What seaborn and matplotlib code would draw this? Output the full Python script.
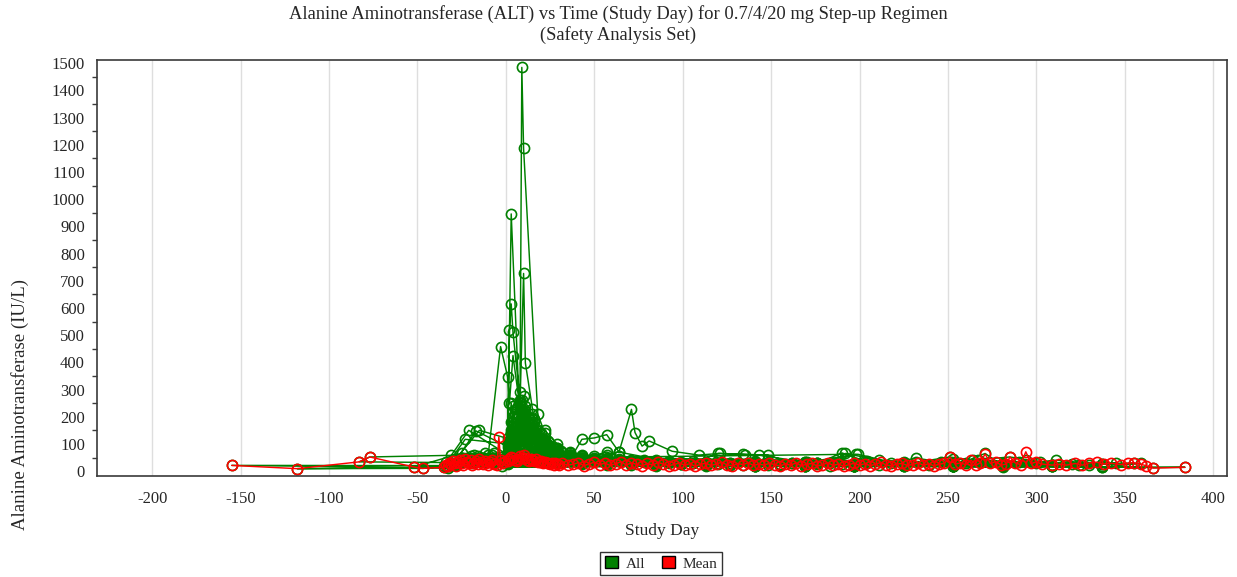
import matplotlib
matplotlib.use("Agg")
import matplotlib.pyplot as plt
from matplotlib.patches import Patch
from matplotlib.ticker import MultipleLocator
import pandas as pd
import seaborn as sns

# ALT values for every visit, listed subject by subject (line joins them in this order)
all_day = [
    -28, 1, 2, 3, 4, 8, 9, 10, 11, 15, 16, 22, 29, 43, 57, 71, 85, 113, 141, 169, 197, 225, 253, 281, 309, 337,
    -155, -33, 1, 2, 3, 4, 8, 9, 10, 15, 22, 29, 43, 57, 85, 113, 141, 169, 197, 225, 253, 271, 281, 309, 337, 366, 384,
    -33, -16, 1, 2, 3, 4, 5, 8, 9, 10, 11, 12, 15, 16, 17, 22, 24, 29, 36, 43, 50, 57, 64, 85, 113, 141, 169, 197,
    -83, -77, -31, -12, 1, 2, 3, 4, 8, 9, 10, 11, 15, 16, 22, 29, 36, 43, 57, 71, 85, 99, 113, 127, 141, 155, 169,
    -118, -47, -28, 1, 2, 3, 4, 8, 10, 11, 15, 17, 22, 29, 43, 57, 85, 113, 141, 169, 197, 225, 253, 281, 309,
    -28, -9, 1, 2, 3, 4, 6, 8, 9, 10, 11, 13, 15, 17, 19, 22, 25, 29, 33, 36, 43, 50, 57, 71, 85, 113, 141, 169, 197, 225, 253,
    -52, -25, 1, 2, 3, 4, 8, 9, 10, 11, 15, 18, 22, 29, 36, 50, 64, 78, 92, 106, 120, 134, 148, 162, 176, 190, 204, 218, 232, 246, 260,
    -33, 1, 2, 3, 4, 8, 9, 10, 11, 15, 16, 17, 22, 29, 43, 57, 85, 113, 141, 169, 197, 225, 253, 281, 309, 337, 359,
    -26, 1, 2, 3, 4, 8, 9, 10, 11, 15, 18, 22, 29, 36, 43, 57, 71, 85, 99, 113, 127, 141, 155, 169, 183, 192, 211,
    -35, -21, 1, 2, 3, 4, 8, 9, 10, 18, 22, 29, 43, 57, 85, 113, 141,
    -25, -4, 1, 2, 3, 4, 8, 9, 10, 11, 12, 14, 15, 16, 18, 20, 22, 27, 29, 36, 43, 57, 71, 85, 99, 113, 127, 141, 169, 197, 225, 253, 281, 309, 337,
    -20, -8, 1, 2, 3, 4, 8, 9, 10, 12, 15, 19, 22, 25, 29, 43, 57, 85, 113, 141, 169, 199, 225, 253, 281, 311, 337, 355,
    -35, -2, 1, 2, 3, 5, 8, 9, 10, 11, 14, 16, 20, 23, 29, 36, 50, 64, 78, 92, 106, 120, 134, 148, 162, 176, 190,
    -30, -17, 1, 3, 8, 9, 10, 11, 15, 22, 29, 36, 43, 50, 57, 64, 92, 120, 148, 176, 204,
    -22, -7, 1, 2, 3, 4, 7, 8, 9, 10, 11, 15, 16, 18, 22, 24, 29, 31, 36, 43, 50, 57, 64, 78, 92, 106, 120, 148, 176, 204, 232,
    -29, 1, 2, 3, 4, 8, 9, 10, 11, 15, 16, 22, 24, 29, 43, 57, 85, 113, 141, 169, 197, 225, 253, 281, 309, 324,
    -32, -6, 1, 2, 3, 4, 8, 9, 10, 11, 15, 16, 22, 29, 36, 43, 50, 57, 71, 85, 99, 113, 127, 141, 155, 169, 183, 197, 211, 225, 239, 253, 267, 285, 302,
    -30, 1, 2, 3, 4, 8, 10, 11, 15, 16, 22, 29, 43, 57, 64, 71, 73, 77, 81, 94, 109, 121, 135, 143, 170, 198,
    -24, -1, 1, 2, 3, 4, 8, 9, 10, 13, 15, 20, 22, 26, 29, 43, 57, 85, 113, 141, 169, 197, 225, 251, 264, 290, 330, 345,
    -34, -23, 1, 2, 3, 4, 8, 9, 15, 22, 29, 43, 57, 85, 113, 141, 169, 197, 225,
    -34, -18, 1, 2, 3, 4, 8, 9, 10, 11, 15, 16, 19, 22, 26, 29, 36, 43, 57, 71, 85, 113, 141, 169, 197, 225, 253, 281,
    -19, -5, 1, 2, 3, 4, 8, 9, 10, 11, 15, 16, 22, 29, 36, 43, 57, 85, 113, 141, 169, 197, 225,
    -10, -3, 1, 2, 4, 8, 9, 10, 15, 22, 29, 43, 57, 85, 113, 141, 169, 197, 225, 253, 281, 294, 320,
    -27, -13, 1, 2, 3, 4, 8, 9, 10, 11, 15, 17, 22, 29, 43, 57, 64, 85, 113, 141, 169, 197, 225, 253, 281, 300,
    -31, -15, 1, 3, 4, 8, 10, 11, 15, 16, 22, 29, 36, 57, 85, 113, 141, 169, 197, 225, 253, 281, 309,
]
all_alt = [
    22, 35, 48, 70, 95, 130, 110, 85, 72, 60, 44, 38, 30, 26, 24, 22, 20, 25, 18, 21, 19, 23, 20, 17, 22, 18,
    21, 12, 28, 40, 55, 70, 95, 110, 90, 70, 50, 38, 30, 26, 22, 20, 18, 22, 19, 21, 18, 65, 20, 17, 16, 13, 14,
    20, 55, 60, 90, 140, 180, 210, 240, 260, 230, 205, 180, 160, 140, 130, 110, 95, 80, 60, 50, 45, 40, 36, 30, 26, 24, 22, 20,
    34, 52, 58, 66, 45, 60, 85, 120, 150, 175, 160, 140, 120, 100, 80, 60, 48, 40, 34, 30, 28, 25, 27, 23, 26, 24, 22,
    9, 10, 22, 30, 42, 60, 80, 130, 150, 170, 190, 150, 110, 70, 45, 35, 28, 25, 22, 20, 24, 21, 19, 23, 20,
    30, 45, 70, 100, 150, 200, 230, 250, 220, 190, 170, 160, 140, 120, 105, 90, 75, 62, 55, 48, 42, 38, 34, 30, 28, 26, 24, 22, 25, 23, 21,
    15, 66, 50, 75, 100, 140, 180, 220, 200, 185, 150, 125, 100, 75, 60, 45, 40, 36, 32, 30, 65, 62, 59, 30, 28, 67, 35, 30, 48, 33, 28,
    18, 25, 40, 60, 85, 120, 140, 150, 130, 110, 95, 90, 70, 50, 35, 30, 25, 22, 20, 19, 18, 20, 17, 16, 18, 15, 28,
    40, 45, 70, 100, 130, 190, 210, 180, 160, 140, 120, 90, 65, 50, 40, 35, 30, 28, 26, 32, 30, 28, 25, 27, 30, 65, 40,
    20, 150, 60, 110, 180, 240, 290, 1485, 1187, 210, 140, 80, 45, 35, 28, 25, 22,
    50, 40, 45, 65, 90, 120, 160, 190, 215, 200, 185, 175, 160, 150, 135, 120, 100, 85, 70, 58, 50, 44, 40, 36, 32, 30, 28, 34, 30, 27, 33, 29, 26, 24, 27,
    55, 60, 50, 80, 110, 160, 180, 200, 170, 150, 130, 110, 95, 80, 60, 45, 38, 30, 28, 25, 23, 62, 22, 24, 21, 40, 25, 28,
    15, 20, 30, 45, 70, 100, 150, 170, 200, 220, 180, 140, 120, 100, 85, 60, 50, 40, 35, 30, 28, 26, 24, 22, 30, 28, 25,
    22, 148, 90, 946, 170, 150, 120, 95, 75, 60, 48, 40, 117, 122, 134, 70, 35, 30, 28, 26, 30,
    40, 65, 55, 85, 120, 165, 195, 180, 170, 185, 150, 130, 140, 115, 105, 90, 85, 75, 68, 60, 55, 50, 45, 40, 38, 36, 42, 35, 30, 38, 34,
    30, 35, 50, 75, 110, 140, 120, 100, 90, 80, 70, 55, 110, 45, 56, 42, 34, 30, 25, 28, 24, 22, 20, 21, 19, 24,
    25, 35, 40, 55, 80, 105, 135, 160, 190, 170, 145, 125, 95, 70, 55, 45, 40, 35, 30, 28, 25, 24, 22, 20, 21, 19, 18, 20, 22, 24, 21, 20, 42, 52, 34,
    30, 55, 95, 140, 200, 250, 727, 398, 230, 180, 110, 80, 55, 60, 71, 227, 142, 92, 111, 73, 59, 65, 61, 59, 32, 62,
    45, 30, 35, 60, 90, 125, 160, 185, 210, 195, 170, 140, 115, 90, 65, 48, 40, 32, 28, 26, 24, 22, 25, 52, 40, 35, 22, 30,
    18, 117, 100, 520, 615, 511, 260, 190, 140, 100, 70, 50, 40, 30, 28, 25, 22, 24, 21,
    35, 60, 70, 110, 130, 145, 175, 165, 150, 135, 120, 108, 96, 88, 75, 66, 58, 50, 42, 38, 34, 30, 36, 32, 29, 31, 27, 25,
    28, 35, 30, 45, 60, 75, 95, 115, 125, 110, 95, 85, 65, 50, 42, 36, 30, 26, 24, 22, 20, 18, 19,
    60, 458, 346, 250, 425, 230, 200, 175, 120, 85, 60, 42, 35, 30, 28, 25, 26, 22, 24, 20, 21, 40, 25,
    35, 48, 40, 55, 75, 95, 110, 130, 150, 140, 125, 100, 85, 60, 45, 70, 55, 40, 30, 26, 24, 22, 20, 45, 30, 28,
    24, 150, 120, 250, 200, 230, 275, 240, 210, 190, 150, 100, 70, 45, 35, 30, 28, 32, 26, 30, 27, 25, 22,
]

# mean ALT per study day
mean_day = [
    -155, -118, -83, -77, -52, -47,
    -35, -34, -33, -32, -31, -30, -29, -28, -27, -26, -25, -24, -23, -22, -21, -20, -19, -18, -17, -16, -15, -14,
    -13, -12, -11, -10, -9, -8, -7, -6, -5, -4, -3, -2, -1,
    1, 2, 3, 4, 5, 6, 7, 8, 9, 10, 11, 12, 13, 14, 15, 16, 17, 18, 19, 20, 21, 22, 23, 24, 25, 26, 27, 28, 29, 30,
    32, 35, 38, 41, 44, 47, 50, 53, 56, 59, 62, 65, 68, 71, 74, 77, 80, 83, 86, 89, 92, 95, 98, 101, 104, 107,
    110, 113, 116, 119, 122, 125, 128, 131, 134, 137, 140, 143, 146, 149,
    152, 155, 158, 161, 164, 167, 170, 173, 176, 179, 182, 185, 188, 191, 194, 197, 200, 203, 206, 209, 212, 215,
    218, 221, 224, 227, 230, 233, 236, 239, 242, 245, 248,
    251, 254, 257, 260, 263, 266, 268, 271, 274, 277, 280, 283, 285, 288, 291, 294, 297,
    300, 303, 309, 313, 317, 322, 326, 330, 334, 338, 342, 348, 352, 355, 359, 362, 366, 384,
]
mean_alt = [
    21, 9, 34, 52, 15, 10,
    14, 22, 18, 30, 25, 38, 28, 20, 35, 42, 30, 24, 45, 33, 28, 40, 22, 30, 38, 26, 44, 32,
    25, 36, 28, 22, 34, 40, 27, 31, 24, 126, 42, 30, 35,
    38, 45, 52, 48, 40, 36, 44, 55, 50, 58, 47, 42, 38, 45, 40, 37, 43, 35, 32, 38, 30, 34, 28, 31, 26, 30, 24, 28, 25, 22,
    28, 22, 25, 31, 20, 26, 33, 24, 29, 21, 27, 34, 23, 30, 25, 19, 28, 22, 32, 26, 20, 24, 30, 22, 27, 18,
    25, 29, 21, 26, 33, 23, 19, 28, 24, 30, 21, 26, 22, 29,
    24, 18, 27, 22, 30, 20, 25, 28, 19, 23, 31, 21, 26, 18, 24, 29, 22, 27, 20, 25, 32, 23,
    19, 26, 28, 21, 24, 30, 22, 27, 20, 25, 29,
    52, 26, 30, 24, 40, 22, 30, 63, 28, 35, 22, 26, 52, 30, 24, 71, 28,
    34, 26, 22, 25, 22, 28, 22, 30, 33, 26, 29, 24, 29, 31, 25, 20, 11, 14,
]

x_ticks = [-200, -150, -100, -50, 0, 50, 100, 150, 200, 250, 300, 350, 400]
y_ticks = [0, 100, 200, 300, 400, 500, 600, 700, 800, 900, 1000, 1100, 1200, 1300, 1400, 1500]

all_df = pd.DataFrame({"day": all_day, "alt": all_alt})
mean_df = pd.DataFrame({"day": mean_day, "alt": mean_alt})

sns.set_style("white")
plt.rcParams["font.family"] = ["Liberation Serif", "DejaVu Serif"]
plt.rcParams["axes.unicode_minus"] = False

W, H = 1237, 577
fig = plt.figure(figsize=(W / 100, H / 100), dpi=100)
ax = fig.add_axes([96.7 / W, 1 - 476 / H, (1226.7 - 96.7) / W, (476 - 59.5) / H])

green = "#008000"
red = "#ff0000"
common = dict(estimator=None, sort=False, marker="o", markersize=7.3,
              markerfacecolor="none", markeredgewidth=1.2, linewidth=1.05, ax=ax, legend=False)
sns.lineplot(data=all_df, x="day", y="alt", color=green, markeredgecolor=green, **common)
sns.lineplot(data=mean_df, x="day", y="alt", color=red, markeredgecolor=red, **common)

ax.set_xlim(-231.4, 407.6)
ax.set_ylim(-18, 1514)
ax.set_xticks(x_ticks)
ax.set_yticks(y_ticks)
ax.yaxis.set_minor_locator(MultipleLocator(50))
ax.grid(axis="x", color="#dedede", linewidth=1.0)
ax.grid(axis="y", visible=False)
ax.set_axisbelow(True)

for s in ax.spines.values():
    s.set_color("#3a3a3a")
    s.set_linewidth(1.2)
ax.tick_params(axis="both", which="major", direction="out", length=5.5, width=1.0,
               color="#3a3a3a", labelsize=12, pad=3)
ax.tick_params(axis="x", which="major", pad=5)
ax.tick_params(axis="y", which="minor", direction="out", length=3.5, width=1.0,
               color="#3a3a3a", left=True)
ax.tick_params(axis="x", which="minor", bottom=False)

ax.set_xlabel("Study Day", fontsize=12.5, labelpad=12)
ax.set_ylabel("")
fig.text(20 / W, 1 - 404 / H, "Alanine Aminotransferase (IU/L)", rotation=90,
         ha="center", va="center", fontsize=13.5)

fig.suptitle("Alanine Aminotransferase (ALT) vs Time (Study Day) for 0.7/4/20 mg Step-up Regimen\n"
             "(Safety Analysis Set)", x=0.5, y=1 - 5 / H, va="top", fontsize=13.3, linespacing=1.2)

handles = [Patch(facecolor=green, edgecolor="black", label="All"),
           Patch(facecolor=red, edgecolor="black", label="Mean")]
leg = fig.legend(handles=handles, loc="center", bbox_to_anchor=(661 / W, 1 - 563.5 / H), ncol=2,
                 frameon=True, fancybox=False, edgecolor="black", fontsize=11,
                 handlelength=0.85, handleheight=0.85, handletextpad=0.5, columnspacing=1.1,
                 borderpad=0.3, borderaxespad=0)
leg.get_frame().set_linewidth(1.0)

fig.savefig("out.png", dpi=100)
